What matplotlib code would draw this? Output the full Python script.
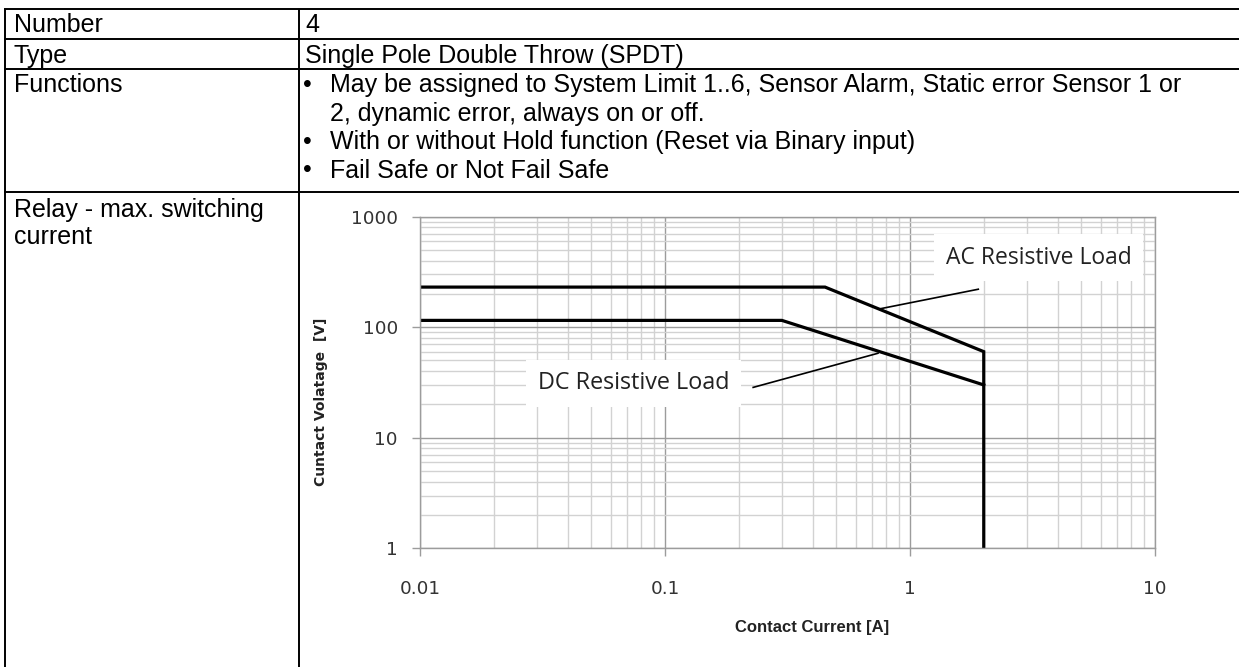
import matplotlib.pyplot as plt
from matplotlib.lines import Line2D
from matplotlib.ticker import FixedLocator, FixedFormatter, LogLocator, NullFormatter

W, H = 1239, 667

## table text
row_labels = ['Number', 'Type', 'Functions', 'Relay - max. switching', 'current']
number_text = '4'
type_text = 'Single Pole Double Throw (SPDT)'
function_lines = ['May be assigned to System Limit 1..6, Sensor Alarm, Static error Sensor 1 or',
                  '2, dynamic error, always on or off.',
                  'With or without Hold function (Reset via Binary input)',
                  'Fail Safe or Not Fail Safe']
bullet_rows = [True, False, True, True]

## relay curves (contact current [A], contact voltage [V])
ac_current = [0.01, 0.45, 2, 2]
ac_voltage = [230, 230, 60, 1]
dc_current = [0.01, 0.3, 2]
dc_voltage = [115, 115, 30]

## label pointers (current, voltage)
ac_pointer = ([0.75, 1.9], [146, 220])
dc_pointer = ([0.74, 0.229], [58, 28.5])

x_ticks = [0.01, 0.1, 1, 10]
x_ticklabels = ['0.01', '0.1', '1', '10']
y_ticks = [1, 10, 100, 1000]
y_ticklabels = ['1', '10', '100', '1000']


def fx(x):
    return x / W


def fy(y):
    return 1 - y / H


fig = plt.figure(figsize=(W / 100, H / 100), dpi=100)

## table frame
line_kw = dict(color='black', lw=1.4, solid_capstyle='butt')
for y in [9, 39, 69, 192]:
    fig.add_artist(Line2D([fx(4), fx(W)], [fy(y), fy(y)], **line_kw))
for x in [5, 298.5]:
    fig.add_artist(Line2D([fx(x), fx(x)], [fy(9), fy(H)], **line_kw))

## table text
tkw = dict(fontsize=18, family='Liberation Sans', va='baseline', ha='left')
label_y = [32.5, 62.5, 92, 216.5, 243.5]
for lab, y in zip(row_labels, label_y):
    fig.text(fx(14), fy(y), lab, **tkw)
fig.text(fx(305), fy(32.5), number_text, **tkw)
fig.text(fx(305), fy(62.5), type_text, **tkw)
func_y = [92, 120.5, 149, 177.5]
for txt, y, b in zip(function_lines, func_y, bullet_rows):
    if b:
        fig.text(fx(303), fy(y), '\u2022', **tkw)
    fig.text(fx(330), fy(y), txt, **tkw)

## chart
ax = fig.add_axes([fx(420), fy(548.3), (1155 - 420) / W, (548.3 - 216.5) / H])
ax.set_xscale('log')
ax.set_yscale('log')
ax.set_xlim(0.01, 10)
ax.set_ylim(1, 1000)

ax.xaxis.set_major_locator(FixedLocator(x_ticks))
ax.xaxis.set_major_formatter(FixedFormatter(x_ticklabels))
ax.yaxis.set_major_locator(FixedLocator(y_ticks))
ax.yaxis.set_major_formatter(FixedFormatter(y_ticklabels))
ax.xaxis.set_minor_locator(LogLocator(base=10, subs=range(2, 10)))
ax.yaxis.set_minor_locator(LogLocator(base=10, subs=range(2, 10)))
ax.xaxis.set_minor_formatter(NullFormatter())
ax.yaxis.set_minor_formatter(NullFormatter())

ax.grid(which='minor', color='#d2d2d2', lw=1.0)
ax.grid(which='major', color='#9c9c9c', lw=1.0)
ax.set_axisbelow(True)
for s in ax.spines.values():
    s.set_color('#9c9c9c')
    s.set_linewidth(1.0)

ax.tick_params(which='major', length=6, width=1, color='#9c9c9c',
               labelsize=13.3, labelcolor='#333333')
ax.tick_params(which='minor', length=0)
ax.tick_params(axis='x', pad=17)
ax.tick_params(axis='y', pad=10)

ax.plot(ac_current, ac_voltage, color='black', lw=2.3, solid_joinstyle='miter')
ax.plot(dc_current, dc_voltage, color='black', lw=2.3, solid_joinstyle='miter')
ax.plot(ac_pointer[0], ac_pointer[1], color='black', lw=1.2)
ax.plot(dc_pointer[0], dc_pointer[1], color='black', lw=1.2)

box = dict(boxstyle='square,pad=0.5', facecolor='white', edgecolor='none')
ax.text(0.8415, 0.876, 'AC Resistive Load', transform=ax.transAxes, ha='center', va='center',
        fontsize=16.5, family='Open Sans', color='#222222', bbox=box, zorder=3)
ax.text(0.2905, 0.4967, 'DC Resistive Load', transform=ax.transAxes, ha='center', va='center',
        fontsize=16.8, family='Open Sans', color='#222222', bbox=box, zorder=3)

ax.set_ylabel('Cuntact Volatage  [V]', fontsize=10, fontweight='bold', color='#222222')
ax.yaxis.set_label_coords(-0.125, 0.44)
ax.set_xlabel('Contact Current [A]', fontsize=12, fontweight='bold',
              family='Liberation Sans', color='#222222')
ax.xaxis.set_label_coords((812 - 420) / 735, -(620 - 548.3) / 331.8)

fig.savefig('out.png', dpi=100)
